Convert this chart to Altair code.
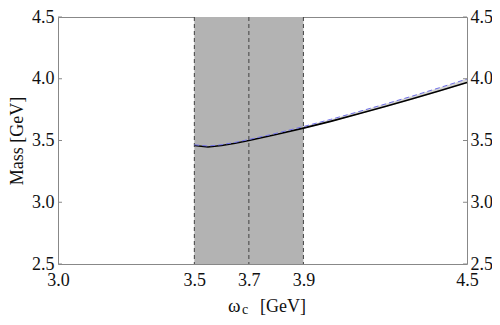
import altair as alt
import pandas as pd

# data
omega_c = [3.5, 3.55, 3.6, 3.65, 3.7, 3.8, 3.9, 4.0, 4.1, 4.2, 4.3, 4.4, 4.5]
mass_central = [3.46, 3.448, 3.46, 3.478, 3.50, 3.548, 3.60, 3.655, 3.715, 3.776, 3.838, 3.903, 3.97]
mass_upper = [3.465, 3.455, 3.466, 3.485, 3.508, 3.558, 3.613, 3.671, 3.732, 3.795, 3.86, 3.928, 3.998]
mass_lower = [3.455, 3.444, 3.455, 3.473, 3.495, 3.543, 3.595, 3.65, 3.71, 3.77, 3.832, 3.897, 3.963]
window_lo = [3.5]
window_hi = [3.9]
window_lines = [3.5, 3.7, 3.9]
x_ticks = [3.0, 3.5, 3.7, 3.9, 4.5]
y_ticks = [2.5, 3.0, 3.5, 4.0, 4.5]

W, H = 409, 247
FONT = "Liberation Serif, Times New Roman, serif"
xdom = [3.0, 4.5]
ydom = [2.5, 4.5]

df = pd.DataFrame({"w": omega_c, "m": mass_central, "up": mass_upper, "lo": mass_lower})
xs = alt.Scale(domain=xdom, nice=False, zero=False)
ys = alt.Scale(domain=ydom, nice=False, zero=False)

xaxis = alt.Axis(values=x_ticks, format=".1f", title=None, labelFont=FONT, labelFontSize=18,
                 labelColor="#111", domain=False, ticks=False, grid=False, labelPadding=7,
                 labelFlush=False)
yaxis = alt.Axis(values=y_ticks, format=".1f", title="Mass  [GeV]", labelFont=FONT, labelFontSize=18,
                 labelColor="#111", domain=False, ticks=False, grid=False, labelPadding=4,
                 titleFont=FONT, titleFontSize=18, titleFontWeight="normal", titleColor="#111",
                 titlePadding=5, labelFlush=False)

shade = alt.Chart(pd.DataFrame({"a": window_lo, "b": window_hi})).mark_rect(color="#b3b3b3").encode(
    x=alt.X("a:Q", scale=xs, axis=xaxis), x2="b:Q",
    y=alt.value(0), y2=alt.value(H))

vlines = alt.Chart(pd.DataFrame({"v": window_lines})).mark_rule(
    color="#404040", strokeDash=[4, 3], strokeWidth=1).encode(
    x=alt.X("v:Q", scale=xs), y=alt.value(0), y2=alt.value(H))

band = alt.Chart(df).mark_area(color="#d0d0d0", opacity=0.9).encode(
    x=alt.X("w:Q", scale=xs), y=alt.Y("lo:Q", scale=ys, axis=yaxis), y2="up:Q")

central = alt.Chart(df).mark_line(color="#000000", strokeWidth=1.6).encode(
    x=alt.X("w:Q", scale=xs), y=alt.Y("m:Q", scale=ys))

upper = alt.Chart(df).mark_line(color="#6f6fe8", strokeWidth=1, strokeDash=[5, 3]).encode(
    x=alt.X("w:Q", scale=xs), y=alt.Y("up:Q", scale=ys))

tickdf = pd.DataFrame({"v": y_ticks})
lticks = alt.Chart(tickdf).mark_rule(color="#888", strokeWidth=1).encode(
    y=alt.Y("v:Q", scale=ys), x=alt.value(0), x2=alt.value(4))

right_axis = alt.Axis(values=y_ticks, format=".1f", title=None, labelFont=FONT, labelFontSize=18,
                      labelColor="#111", domain=False, ticks=False, grid=False, labelPadding=3,
                      orient="right", labelFlush=False)
rticks = alt.Chart(tickdf).mark_rule(color="#888", strokeWidth=1).encode(
    y=alt.Y("v:Q", scale=ys, axis=right_axis), x=alt.value(W - 4), x2=alt.value(W))

t_omega = alt.Chart(pd.DataFrame({"t": ["ω"]})).mark_text(
    font=FONT, fontSize=19, align="left", baseline="alphabetic", color="#111").encode(
    text="t:N", x=alt.value(170), y=alt.value(295))
t_sub = alt.Chart(pd.DataFrame({"t": ["c"]})).mark_text(
    font=FONT, fontSize=14, align="left", baseline="alphabetic", color="#111").encode(
    text="t:N", x=alt.value(184), y=alt.value(297))
t_unit = alt.Chart(pd.DataFrame({"t": ["[GeV]"]})).mark_text(
    font=FONT, fontSize=18, align="left", baseline="alphabetic", color="#111").encode(
    text="t:N", x=alt.value(202), y=alt.value(295))

main = alt.layer(shade, vlines, band, central, upper, lticks, t_omega, t_sub, t_unit)
chart = alt.layer(main, rticks).resolve_scale(y="independent").properties(
    width=W, height=H,
    autosize=alt.AutoSizeParams(type="none"),
    padding={"left": 50, "top": 9, "right": 25, "bottom": 53},
).configure_view(stroke="#888", strokeWidth=1)

chart.save("out.html", embed_options={"renderer": "svg", "actions": False})
